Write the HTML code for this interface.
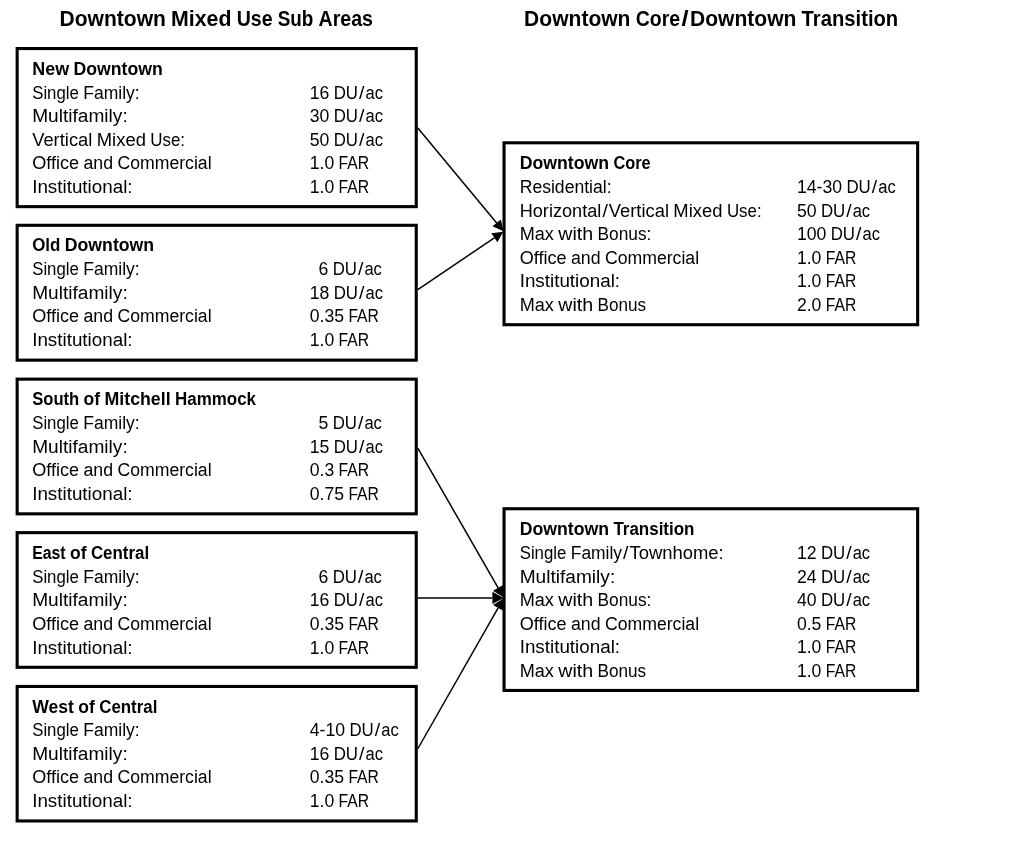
<!DOCTYPE html>
<html lang="en">
<head>
<meta charset="utf-8">
<title>Downtown Mixed Use Sub Areas</title>
<style>
html,body{margin:0;padding:0;background:#fff;}
body{width:1024px;height:856px;overflow:hidden;}
svg{display:block;}
text{font-family:"Liberation Sans", sans-serif;fill:#000;white-space:pre;}
.n{font-size:17.6px;font-weight:400;}
.h{font-size:17.6px;font-weight:700;}
.t{font-size:21.3px;font-weight:700;}
</style>
</head>
<body>
<svg width="1024" height="856" viewBox="0 0 1024 856">
<rect x="0" y="0" width="1024" height="856" fill="#fff"/>
<rect x="17.15" y="48.55" width="399.10" height="158.10" fill="#fff" stroke="#000" stroke-width="3.1"/>
<rect x="17.15" y="225.30" width="399.10" height="134.85" fill="#fff" stroke="#000" stroke-width="3.1"/>
<rect x="17.15" y="379.15" width="399.10" height="134.70" fill="#fff" stroke="#000" stroke-width="3.1"/>
<rect x="17.15" y="532.65" width="399.10" height="134.65" fill="#fff" stroke="#000" stroke-width="3.1"/>
<rect x="17.15" y="686.45" width="399.10" height="134.50" fill="#fff" stroke="#000" stroke-width="3.1"/>
<rect x="504.05" y="142.80" width="413.60" height="181.90" fill="#fff" stroke="#000" stroke-width="3.1"/>
<rect x="504.05" y="508.75" width="413.60" height="181.70" fill="#fff" stroke="#000" stroke-width="3.1"/>
<line x1="417.80" y1="128.10" x2="496.69" y2="222.90" stroke="#000" stroke-width="1.5"/>
<polygon points="503.60,231.20 492.54,226.35 500.84,219.44" fill="#000"/>
<line x1="417.80" y1="289.60" x2="494.35" y2="237.85" stroke="#000" stroke-width="1.5"/>
<polygon points="503.30,231.80 497.38,242.32 491.33,233.37" fill="#000"/>
<line x1="417.80" y1="448.10" x2="498.12" y2="587.89" stroke="#000" stroke-width="1.5"/>
<polygon points="503.70,597.60 493.00,590.83 503.24,584.95" fill="#000"/>
<line x1="417.80" y1="597.90" x2="492.40" y2="597.90" stroke="#000" stroke-width="1.5"/>
<polygon points="503.70,597.90 492.40,604.00 492.40,591.80" fill="#000"/>
<line x1="417.80" y1="748.75" x2="498.15" y2="607.93" stroke="#000" stroke-width="1.5"/>
<polygon points="503.70,598.20 503.27,610.85 493.02,605.00" fill="#000"/>
<text class="t" y="26.00"><tspan x="59.50" textLength="106.39" lengthAdjust="spacingAndGlyphs">Downtown</tspan> <tspan x="171.11" textLength="60.37" lengthAdjust="spacingAndGlyphs">Mixed</tspan> <tspan x="236.69" textLength="35.85" lengthAdjust="spacingAndGlyphs">Use</tspan> <tspan x="277.75" textLength="35.63" lengthAdjust="spacingAndGlyphs">Sub</tspan> <tspan x="318.59" textLength="54.34" lengthAdjust="spacingAndGlyphs">Areas</tspan></text>
<text class="t" y="26.00"><tspan x="524.10" textLength="106.39" lengthAdjust="spacingAndGlyphs">Downtown</tspan> <tspan x="635.71" textLength="44.39" lengthAdjust="spacingAndGlyphs">Core</tspan><tspan x="681.48" textLength="7.13" lengthAdjust="spacingAndGlyphs">/</tspan><tspan x="690.00" textLength="106.39" lengthAdjust="spacingAndGlyphs">Downtown</tspan> <tspan x="801.60" textLength="96.62" lengthAdjust="spacingAndGlyphs">Transition</tspan></text>
<text class="h" y="75.00"><tspan x="32.20" textLength="36.91" lengthAdjust="spacingAndGlyphs">New</tspan> <tspan x="73.48" textLength="89.32" lengthAdjust="spacingAndGlyphs">Downtown</tspan></text>
<text class="n" y="99.00"><tspan x="32.20" textLength="46.67" lengthAdjust="spacingAndGlyphs">Single</tspan> <tspan x="83.25" textLength="56.44" lengthAdjust="spacingAndGlyphs">Family:</tspan></text>
<text class="n" y="99.00"><tspan x="309.70" textLength="19.61" lengthAdjust="spacingAndGlyphs">16</tspan> <tspan x="333.69" textLength="24.32" lengthAdjust="spacingAndGlyphs">DU</tspan><tspan x="359.06" textLength="5.38" lengthAdjust="spacingAndGlyphs">/</tspan><tspan x="365.48" textLength="17.45" lengthAdjust="spacingAndGlyphs">ac</tspan></text>
<text class="n" y="122.00"><tspan x="32.20" textLength="95.52" lengthAdjust="spacingAndGlyphs">Multifamily:</tspan></text>
<text class="n" y="122.00"><tspan x="309.70" textLength="19.61" lengthAdjust="spacingAndGlyphs">30</tspan> <tspan x="333.69" textLength="24.32" lengthAdjust="spacingAndGlyphs">DU</tspan><tspan x="359.06" textLength="5.38" lengthAdjust="spacingAndGlyphs">/</tspan><tspan x="365.48" textLength="17.45" lengthAdjust="spacingAndGlyphs">ac</tspan></text>
<text class="n" y="146.00"><tspan x="32.20" textLength="60.17" lengthAdjust="spacingAndGlyphs">Vertical</tspan> <tspan x="96.74" textLength="49.16" lengthAdjust="spacingAndGlyphs">Mixed</tspan> <tspan x="150.28" textLength="34.79" lengthAdjust="spacingAndGlyphs">Use:</tspan></text>
<text class="n" y="146.00"><tspan x="309.70" textLength="19.61" lengthAdjust="spacingAndGlyphs">50</tspan> <tspan x="333.69" textLength="24.32" lengthAdjust="spacingAndGlyphs">DU</tspan><tspan x="359.06" textLength="5.38" lengthAdjust="spacingAndGlyphs">/</tspan><tspan x="365.48" textLength="17.45" lengthAdjust="spacingAndGlyphs">ac</tspan></text>
<text class="n" y="169.00"><tspan x="32.20" textLength="46.87" lengthAdjust="spacingAndGlyphs">Office</tspan> <tspan x="83.45" textLength="29.60" lengthAdjust="spacingAndGlyphs">and</tspan> <tspan x="117.43" textLength="94.14" lengthAdjust="spacingAndGlyphs">Commercial</tspan></text>
<text class="n" y="169.00"><tspan x="309.70" textLength="24.50" lengthAdjust="spacingAndGlyphs">1.0</tspan> <tspan x="338.58" textLength="30.59" lengthAdjust="spacingAndGlyphs">FAR</tspan></text>
<text class="n" y="193.00"><tspan x="32.20" textLength="100.36" lengthAdjust="spacingAndGlyphs">Institutional:</tspan></text>
<text class="n" y="193.00"><tspan x="309.70" textLength="24.50" lengthAdjust="spacingAndGlyphs">1.0</tspan> <tspan x="338.58" textLength="30.59" lengthAdjust="spacingAndGlyphs">FAR</tspan></text>
<text class="h" y="251.00"><tspan x="32.20" textLength="28.22" lengthAdjust="spacingAndGlyphs">Old</tspan> <tspan x="64.80" textLength="89.32" lengthAdjust="spacingAndGlyphs">Downtown</tspan></text>
<text class="n" y="275.00"><tspan x="32.20" textLength="46.67" lengthAdjust="spacingAndGlyphs">Single</tspan> <tspan x="83.25" textLength="56.44" lengthAdjust="spacingAndGlyphs">Family:</tspan></text>
<text class="n" y="275.00"><tspan x="318.45" textLength="9.81" lengthAdjust="spacingAndGlyphs">6</tspan> <tspan x="332.63" textLength="24.32" lengthAdjust="spacingAndGlyphs">DU</tspan><tspan x="358.00" textLength="5.38" lengthAdjust="spacingAndGlyphs">/</tspan><tspan x="364.42" textLength="17.45" lengthAdjust="spacingAndGlyphs">ac</tspan></text>
<text class="n" y="299.00"><tspan x="32.20" textLength="95.52" lengthAdjust="spacingAndGlyphs">Multifamily:</tspan></text>
<text class="n" y="299.00"><tspan x="309.70" textLength="19.61" lengthAdjust="spacingAndGlyphs">18</tspan> <tspan x="333.69" textLength="24.32" lengthAdjust="spacingAndGlyphs">DU</tspan><tspan x="359.06" textLength="5.38" lengthAdjust="spacingAndGlyphs">/</tspan><tspan x="365.48" textLength="17.45" lengthAdjust="spacingAndGlyphs">ac</tspan></text>
<text class="n" y="322.00"><tspan x="32.20" textLength="46.87" lengthAdjust="spacingAndGlyphs">Office</tspan> <tspan x="83.45" textLength="29.60" lengthAdjust="spacingAndGlyphs">and</tspan> <tspan x="117.43" textLength="94.14" lengthAdjust="spacingAndGlyphs">Commercial</tspan></text>
<text class="n" y="322.00"><tspan x="309.70" textLength="34.31" lengthAdjust="spacingAndGlyphs">0.35</tspan> <tspan x="348.38" textLength="30.59" lengthAdjust="spacingAndGlyphs">FAR</tspan></text>
<text class="n" y="346.00"><tspan x="32.20" textLength="100.36" lengthAdjust="spacingAndGlyphs">Institutional:</tspan></text>
<text class="n" y="346.00"><tspan x="309.70" textLength="24.50" lengthAdjust="spacingAndGlyphs">1.0</tspan> <tspan x="338.58" textLength="30.59" lengthAdjust="spacingAndGlyphs">FAR</tspan></text>
<text class="h" y="405.00"><tspan x="32.20" textLength="47.03" lengthAdjust="spacingAndGlyphs">South</tspan> <tspan x="83.60" textLength="16.53" lengthAdjust="spacingAndGlyphs">of</tspan> <tspan x="104.50" textLength="66.10" lengthAdjust="spacingAndGlyphs">Mitchell</tspan> <tspan x="174.98" textLength="81.03" lengthAdjust="spacingAndGlyphs">Hammock</tspan></text>
<text class="n" y="429.00"><tspan x="32.20" textLength="46.67" lengthAdjust="spacingAndGlyphs">Single</tspan> <tspan x="83.25" textLength="56.44" lengthAdjust="spacingAndGlyphs">Family:</tspan></text>
<text class="n" y="429.00"><tspan x="318.45" textLength="9.81" lengthAdjust="spacingAndGlyphs">5</tspan> <tspan x="332.63" textLength="24.32" lengthAdjust="spacingAndGlyphs">DU</tspan><tspan x="358.00" textLength="5.38" lengthAdjust="spacingAndGlyphs">/</tspan><tspan x="364.42" textLength="17.45" lengthAdjust="spacingAndGlyphs">ac</tspan></text>
<text class="n" y="453.00"><tspan x="32.20" textLength="95.52" lengthAdjust="spacingAndGlyphs">Multifamily:</tspan></text>
<text class="n" y="453.00"><tspan x="309.70" textLength="19.61" lengthAdjust="spacingAndGlyphs">15</tspan> <tspan x="333.69" textLength="24.32" lengthAdjust="spacingAndGlyphs">DU</tspan><tspan x="359.06" textLength="5.38" lengthAdjust="spacingAndGlyphs">/</tspan><tspan x="365.48" textLength="17.45" lengthAdjust="spacingAndGlyphs">ac</tspan></text>
<text class="n" y="476.00"><tspan x="32.20" textLength="46.87" lengthAdjust="spacingAndGlyphs">Office</tspan> <tspan x="83.45" textLength="29.60" lengthAdjust="spacingAndGlyphs">and</tspan> <tspan x="117.43" textLength="94.14" lengthAdjust="spacingAndGlyphs">Commercial</tspan></text>
<text class="n" y="476.00"><tspan x="309.70" textLength="24.50" lengthAdjust="spacingAndGlyphs">0.3</tspan> <tspan x="338.58" textLength="30.59" lengthAdjust="spacingAndGlyphs">FAR</tspan></text>
<text class="n" y="500.00"><tspan x="32.20" textLength="100.36" lengthAdjust="spacingAndGlyphs">Institutional:</tspan></text>
<text class="n" y="500.00"><tspan x="309.70" textLength="34.31" lengthAdjust="spacingAndGlyphs">0.75</tspan> <tspan x="348.38" textLength="30.59" lengthAdjust="spacingAndGlyphs">FAR</tspan></text>
<text class="h" y="559.00"><tspan x="32.20" textLength="33.42" lengthAdjust="spacingAndGlyphs">East</tspan> <tspan x="69.99" textLength="16.53" lengthAdjust="spacingAndGlyphs">of</tspan> <tspan x="90.90" textLength="58.26" lengthAdjust="spacingAndGlyphs">Central</tspan></text>
<text class="n" y="583.00"><tspan x="32.20" textLength="46.67" lengthAdjust="spacingAndGlyphs">Single</tspan> <tspan x="83.25" textLength="56.44" lengthAdjust="spacingAndGlyphs">Family:</tspan></text>
<text class="n" y="583.00"><tspan x="318.45" textLength="9.81" lengthAdjust="spacingAndGlyphs">6</tspan> <tspan x="332.63" textLength="24.32" lengthAdjust="spacingAndGlyphs">DU</tspan><tspan x="358.00" textLength="5.38" lengthAdjust="spacingAndGlyphs">/</tspan><tspan x="364.42" textLength="17.45" lengthAdjust="spacingAndGlyphs">ac</tspan></text>
<text class="n" y="606.00"><tspan x="32.20" textLength="95.52" lengthAdjust="spacingAndGlyphs">Multifamily:</tspan></text>
<text class="n" y="606.00"><tspan x="309.70" textLength="19.61" lengthAdjust="spacingAndGlyphs">16</tspan> <tspan x="333.69" textLength="24.32" lengthAdjust="spacingAndGlyphs">DU</tspan><tspan x="359.06" textLength="5.38" lengthAdjust="spacingAndGlyphs">/</tspan><tspan x="365.48" textLength="17.45" lengthAdjust="spacingAndGlyphs">ac</tspan></text>
<text class="n" y="630.00"><tspan x="32.20" textLength="46.87" lengthAdjust="spacingAndGlyphs">Office</tspan> <tspan x="83.45" textLength="29.60" lengthAdjust="spacingAndGlyphs">and</tspan> <tspan x="117.43" textLength="94.14" lengthAdjust="spacingAndGlyphs">Commercial</tspan></text>
<text class="n" y="630.00"><tspan x="309.70" textLength="34.31" lengthAdjust="spacingAndGlyphs">0.35</tspan> <tspan x="348.38" textLength="30.59" lengthAdjust="spacingAndGlyphs">FAR</tspan></text>
<text class="n" y="654.00"><tspan x="32.20" textLength="100.36" lengthAdjust="spacingAndGlyphs">Institutional:</tspan></text>
<text class="n" y="654.00"><tspan x="309.70" textLength="24.50" lengthAdjust="spacingAndGlyphs">1.0</tspan> <tspan x="338.58" textLength="30.59" lengthAdjust="spacingAndGlyphs">FAR</tspan></text>
<text class="h" y="713.00"><tspan x="32.20" textLength="41.71" lengthAdjust="spacingAndGlyphs">West</tspan> <tspan x="78.28" textLength="16.53" lengthAdjust="spacingAndGlyphs">of</tspan> <tspan x="99.18" textLength="58.26" lengthAdjust="spacingAndGlyphs">Central</tspan></text>
<text class="n" y="736.00"><tspan x="32.20" textLength="46.67" lengthAdjust="spacingAndGlyphs">Single</tspan> <tspan x="83.25" textLength="56.44" lengthAdjust="spacingAndGlyphs">Family:</tspan></text>
<text class="n" y="736.00"><tspan x="309.70" textLength="35.35" lengthAdjust="spacingAndGlyphs">4-10</tspan> <tspan x="349.42" textLength="24.32" lengthAdjust="spacingAndGlyphs">DU</tspan><tspan x="374.79" textLength="5.38" lengthAdjust="spacingAndGlyphs">/</tspan><tspan x="381.22" textLength="17.45" lengthAdjust="spacingAndGlyphs">ac</tspan></text>
<text class="n" y="760.00"><tspan x="32.20" textLength="95.52" lengthAdjust="spacingAndGlyphs">Multifamily:</tspan></text>
<text class="n" y="760.00"><tspan x="309.70" textLength="19.61" lengthAdjust="spacingAndGlyphs">16</tspan> <tspan x="333.69" textLength="24.32" lengthAdjust="spacingAndGlyphs">DU</tspan><tspan x="359.06" textLength="5.38" lengthAdjust="spacingAndGlyphs">/</tspan><tspan x="365.48" textLength="17.45" lengthAdjust="spacingAndGlyphs">ac</tspan></text>
<text class="n" y="783.00"><tspan x="32.20" textLength="46.87" lengthAdjust="spacingAndGlyphs">Office</tspan> <tspan x="83.45" textLength="29.60" lengthAdjust="spacingAndGlyphs">and</tspan> <tspan x="117.43" textLength="94.14" lengthAdjust="spacingAndGlyphs">Commercial</tspan></text>
<text class="n" y="783.00"><tspan x="309.70" textLength="34.31" lengthAdjust="spacingAndGlyphs">0.35</tspan> <tspan x="348.38" textLength="30.59" lengthAdjust="spacingAndGlyphs">FAR</tspan></text>
<text class="n" y="807.00"><tspan x="32.20" textLength="100.36" lengthAdjust="spacingAndGlyphs">Institutional:</tspan></text>
<text class="n" y="807.00"><tspan x="309.70" textLength="24.50" lengthAdjust="spacingAndGlyphs">1.0</tspan> <tspan x="338.58" textLength="30.59" lengthAdjust="spacingAndGlyphs">FAR</tspan></text>
<text class="h" y="169.00"><tspan x="519.70" textLength="89.32" lengthAdjust="spacingAndGlyphs">Downtown</tspan> <tspan x="613.39" textLength="37.26" lengthAdjust="spacingAndGlyphs">Core</tspan></text>
<text class="n" y="193.00"><tspan x="519.70" textLength="91.91" lengthAdjust="spacingAndGlyphs">Residential:</tspan></text>
<text class="n" y="193.00"><tspan x="796.90" textLength="45.15" lengthAdjust="spacingAndGlyphs">14-30</tspan> <tspan x="846.43" textLength="24.32" lengthAdjust="spacingAndGlyphs">DU</tspan><tspan x="871.80" textLength="5.38" lengthAdjust="spacingAndGlyphs">/</tspan><tspan x="878.22" textLength="17.45" lengthAdjust="spacingAndGlyphs">ac</tspan></text>
<text class="n" y="217.00"><tspan x="519.70" textLength="81.65" lengthAdjust="spacingAndGlyphs">Horizontal</tspan><tspan x="602.40" textLength="5.38" lengthAdjust="spacingAndGlyphs">/</tspan><tspan x="608.83" textLength="60.17" lengthAdjust="spacingAndGlyphs">Vertical</tspan> <tspan x="673.37" textLength="49.16" lengthAdjust="spacingAndGlyphs">Mixed</tspan> <tspan x="726.90" textLength="34.79" lengthAdjust="spacingAndGlyphs">Use:</tspan></text>
<text class="n" y="217.00"><tspan x="796.90" textLength="19.61" lengthAdjust="spacingAndGlyphs">50</tspan> <tspan x="820.89" textLength="24.32" lengthAdjust="spacingAndGlyphs">DU</tspan><tspan x="846.26" textLength="5.38" lengthAdjust="spacingAndGlyphs">/</tspan><tspan x="852.68" textLength="17.45" lengthAdjust="spacingAndGlyphs">ac</tspan></text>
<text class="n" y="240.00"><tspan x="519.70" textLength="34.19" lengthAdjust="spacingAndGlyphs">Max</tspan> <tspan x="558.27" textLength="34.92" lengthAdjust="spacingAndGlyphs">with</tspan> <tspan x="597.56" textLength="53.81" lengthAdjust="spacingAndGlyphs">Bonus:</tspan></text>
<text class="n" y="240.00"><tspan x="796.90" textLength="29.42" lengthAdjust="spacingAndGlyphs">100</tspan> <tspan x="830.70" textLength="24.32" lengthAdjust="spacingAndGlyphs">DU</tspan><tspan x="856.06" textLength="5.38" lengthAdjust="spacingAndGlyphs">/</tspan><tspan x="862.49" textLength="17.45" lengthAdjust="spacingAndGlyphs">ac</tspan></text>
<text class="n" y="264.00"><tspan x="519.70" textLength="46.87" lengthAdjust="spacingAndGlyphs">Office</tspan> <tspan x="570.95" textLength="29.60" lengthAdjust="spacingAndGlyphs">and</tspan> <tspan x="604.93" textLength="94.14" lengthAdjust="spacingAndGlyphs">Commercial</tspan></text>
<text class="n" y="264.00"><tspan x="796.90" textLength="24.50" lengthAdjust="spacingAndGlyphs">1.0</tspan> <tspan x="825.78" textLength="30.59" lengthAdjust="spacingAndGlyphs">FAR</tspan></text>
<text class="n" y="287.00"><tspan x="519.70" textLength="100.36" lengthAdjust="spacingAndGlyphs">Institutional:</tspan></text>
<text class="n" y="287.00"><tspan x="796.90" textLength="24.50" lengthAdjust="spacingAndGlyphs">1.0</tspan> <tspan x="825.78" textLength="30.59" lengthAdjust="spacingAndGlyphs">FAR</tspan></text>
<text class="n" y="311.00"><tspan x="519.70" textLength="34.19" lengthAdjust="spacingAndGlyphs">Max</tspan> <tspan x="558.27" textLength="34.92" lengthAdjust="spacingAndGlyphs">with</tspan> <tspan x="597.56" textLength="48.63" lengthAdjust="spacingAndGlyphs">Bonus</tspan></text>
<text class="n" y="311.00"><tspan x="796.90" textLength="24.50" lengthAdjust="spacingAndGlyphs">2.0</tspan> <tspan x="825.78" textLength="30.59" lengthAdjust="spacingAndGlyphs">FAR</tspan></text>
<text class="h" y="535.00"><tspan x="519.70" textLength="89.32" lengthAdjust="spacingAndGlyphs">Downtown</tspan> <tspan x="613.39" textLength="81.11" lengthAdjust="spacingAndGlyphs">Transition</tspan></text>
<text class="n" y="559.00"><tspan x="519.70" textLength="46.67" lengthAdjust="spacingAndGlyphs">Single</tspan> <tspan x="570.75" textLength="51.26" lengthAdjust="spacingAndGlyphs">Family</tspan><tspan x="623.05" textLength="5.38" lengthAdjust="spacingAndGlyphs">/</tspan><tspan x="629.48" textLength="94.27" lengthAdjust="spacingAndGlyphs">Townhome:</tspan></text>
<text class="n" y="559.00"><tspan x="796.90" textLength="19.61" lengthAdjust="spacingAndGlyphs">12</tspan> <tspan x="820.89" textLength="24.32" lengthAdjust="spacingAndGlyphs">DU</tspan><tspan x="846.26" textLength="5.38" lengthAdjust="spacingAndGlyphs">/</tspan><tspan x="852.68" textLength="17.45" lengthAdjust="spacingAndGlyphs">ac</tspan></text>
<text class="n" y="583.00"><tspan x="519.70" textLength="95.52" lengthAdjust="spacingAndGlyphs">Multifamily:</tspan></text>
<text class="n" y="583.00"><tspan x="796.90" textLength="19.61" lengthAdjust="spacingAndGlyphs">24</tspan> <tspan x="820.89" textLength="24.32" lengthAdjust="spacingAndGlyphs">DU</tspan><tspan x="846.26" textLength="5.38" lengthAdjust="spacingAndGlyphs">/</tspan><tspan x="852.68" textLength="17.45" lengthAdjust="spacingAndGlyphs">ac</tspan></text>
<text class="n" y="606.00"><tspan x="519.70" textLength="34.19" lengthAdjust="spacingAndGlyphs">Max</tspan> <tspan x="558.27" textLength="34.92" lengthAdjust="spacingAndGlyphs">with</tspan> <tspan x="597.56" textLength="53.81" lengthAdjust="spacingAndGlyphs">Bonus:</tspan></text>
<text class="n" y="606.00"><tspan x="796.90" textLength="19.61" lengthAdjust="spacingAndGlyphs">40</tspan> <tspan x="820.89" textLength="24.32" lengthAdjust="spacingAndGlyphs">DU</tspan><tspan x="846.26" textLength="5.38" lengthAdjust="spacingAndGlyphs">/</tspan><tspan x="852.68" textLength="17.45" lengthAdjust="spacingAndGlyphs">ac</tspan></text>
<text class="n" y="630.00"><tspan x="519.70" textLength="46.87" lengthAdjust="spacingAndGlyphs">Office</tspan> <tspan x="570.95" textLength="29.60" lengthAdjust="spacingAndGlyphs">and</tspan> <tspan x="604.93" textLength="94.14" lengthAdjust="spacingAndGlyphs">Commercial</tspan></text>
<text class="n" y="630.00"><tspan x="796.90" textLength="24.50" lengthAdjust="spacingAndGlyphs">0.5</tspan> <tspan x="825.78" textLength="30.59" lengthAdjust="spacingAndGlyphs">FAR</tspan></text>
<text class="n" y="653.00"><tspan x="519.70" textLength="100.36" lengthAdjust="spacingAndGlyphs">Institutional:</tspan></text>
<text class="n" y="653.00"><tspan x="796.90" textLength="24.50" lengthAdjust="spacingAndGlyphs">1.0</tspan> <tspan x="825.78" textLength="30.59" lengthAdjust="spacingAndGlyphs">FAR</tspan></text>
<text class="n" y="677.00"><tspan x="519.70" textLength="34.19" lengthAdjust="spacingAndGlyphs">Max</tspan> <tspan x="558.27" textLength="34.92" lengthAdjust="spacingAndGlyphs">with</tspan> <tspan x="597.56" textLength="48.63" lengthAdjust="spacingAndGlyphs">Bonus</tspan></text>
<text class="n" y="677.00"><tspan x="796.90" textLength="24.50" lengthAdjust="spacingAndGlyphs">1.0</tspan> <tspan x="825.78" textLength="30.59" lengthAdjust="spacingAndGlyphs">FAR</tspan></text>
</svg>
</body>
</html>
